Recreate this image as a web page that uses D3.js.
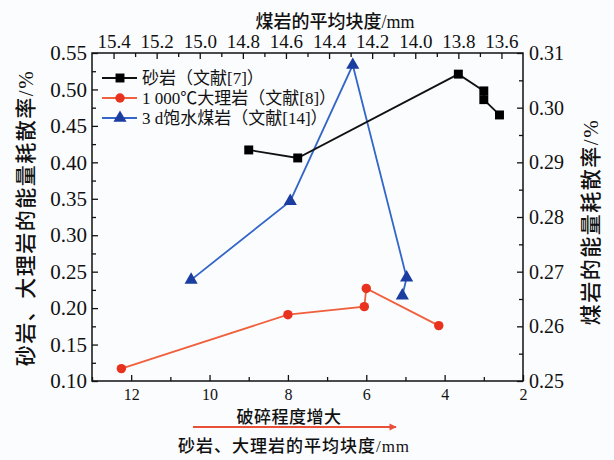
<!DOCTYPE html>
<html><head><meta charset="utf-8">
<script src="https://cdn.jsdelivr.net/npm/d3@7"></script>
<style>
html,body{margin:0;padding:0;background:#fbfcfe;}
svg{display:block;}
text{font-family:"Liberation Serif","Noto Sans CJK SC",serif;fill:#111;}
</style></head>
<body>
<svg id="c" width="614" height="460"></svg>
<script>
// ---- data ----
const sandX = [9.0, 7.75, 3.65, 3.0, 3.0, 2.6];
const sandY = [0.417, 0.406, 0.521, 0.498, 0.486, 0.465];
const marbleX = [12.25, 8.0, 6.05, 6.0, 4.15];
const marbleY = [0.117, 0.191, 0.202, 0.227, 0.176];
const coalX = [15.04, 14.58, 14.29, 14.04, 14.06];
const coalY = [0.2685, 0.2829, 0.3078, 0.2689, 0.2656];
const leftTicks = [0.10,0.15,0.20,0.25,0.30,0.35,0.40,0.45,0.50,0.55];
const rightTicks = [0.25,0.26,0.27,0.28,0.29,0.30,0.31];
const bottomTicks = [12,10,8,6,4,2];
const topTicks = [15.4,15.2,15.0,14.8,14.6,14.4,14.2,14.0,13.8,13.6];
const legendNames = ["砂岩（文献[7]）","1 000℃大理岩（文献[8]）","3 d饱水煤岩（文献[14]）"];

const svg = d3.select("#c");
const L=92,R=523,T=53,B=381;
const xB = d3.scaleLinear().domain([13,2]).range([L,R]);
const xT = d3.scaleLinear().domain([15.5,13.5]).range([L,R]);
const yL = d3.scaleLinear().domain([0.10,0.55]).range([B,T]);
const yR = d3.scaleLinear().domain([0.25,0.31]).range([B,T]);

function styleAxis(g,size){
  g.select(".domain").remove();
  g.selectAll(".tick line").attr("stroke","#111").attr("stroke-width",1.3);
  g.selectAll(".tick text").style("font-size",size+"px").attr("fill","#111");
}
// minor ticks
svg.append("g").attr("transform",`translate(${L},0)`)
  .call(d3.axisLeft(yL).tickValues(d3.range(0.125,0.55,0.05)).tickSize(-4).tickFormat(""))
  .call(g=>styleAxis(g,10));
svg.append("g").attr("transform",`translate(${R},0)`)
  .call(d3.axisRight(yR).tickValues(d3.range(0.255,0.31,0.01)).tickSize(-4).tickFormat(""))
  .call(g=>styleAxis(g,10));
svg.append("g").attr("transform",`translate(0,${B})`)
  .call(d3.axisBottom(xB).tickValues([13,11,9,7,5,3]).tickSize(-4).tickFormat(""))
  .call(g=>styleAxis(g,10));
svg.append("g").attr("transform",`translate(0,${T})`)
  .call(d3.axisTop(xT).tickValues([15.3,15.1,14.9,14.7,14.5,14.3,14.1,13.9,13.7]).tickSize(-4).tickFormat(""))
  .call(g=>styleAxis(g,10));
// major axes
svg.append("g").attr("transform",`translate(${L},0)`)
  .call(d3.axisLeft(yL).tickValues(leftTicks).tickSize(-6).tickPadding(5).tickFormat(d3.format(".2f")))
  .call(g=>styleAxis(g,21));
svg.append("g").attr("transform",`translate(${R},0)`)
  .call(d3.axisRight(yR).tickValues(rightTicks).tickSize(-6).tickPadding(6).tickFormat(d3.format(".2f")))
  .call(g=>styleAxis(g,20));
svg.append("g").attr("transform",`translate(0,${B})`)
  .call(d3.axisBottom(xB).tickValues(bottomTicks).tickSize(-6).tickPadding(8).tickFormat(d3.format("d")))
  .call(g=>styleAxis(g,16));
svg.append("g").attr("transform",`translate(0,${T})`)
  .call(d3.axisTop(xT).tickValues(topTicks).tickSize(-6).tickPadding(5).tickFormat(d3.format(".1f")))
  .call(g=>styleAxis(g,19));

// frame
svg.append("rect").attr("x",L).attr("y",T).attr("width",R-L).attr("height",B-T)
  .attr("fill","none").attr("stroke","#111").attr("stroke-width",1.5);

// series
const series = [
  {xs:sandX, ys:sandY, x:xB, y:yL, line:"#111", fill:"#000", sym:d3.symbolSquare, size:80},
  {xs:marbleX, ys:marbleY, x:xB, y:yL, line:"#f0603c", fill:"#e8321e", sym:d3.symbolCircle, size:70},
  {xs:coalX, ys:coalY, x:xT, y:yR, line:"#3366c8", fill:"#1c3da0", sym:d3.symbolTriangle, size:75}
];
[series[2],series[1],series[0]].forEach(s=>{
  const pts = s.xs.map((v,i)=>[s.x(v), s.y(s.ys[i])]);
  svg.append("path").attr("d",d3.line()(pts)).attr("fill","none")
    .attr("stroke",s.line).attr("stroke-width",1.8);
  svg.selectAll(null).data(pts).enter().append("path")
    .attr("transform",d=>`translate(${d[0]},${d[1]})`)
    .attr("d",d3.symbol().type(s.sym).size(s.size)).attr("fill",s.fill);
});

// legend
legendNames.forEach((name,i)=>{
  const s = series[i], y = 78 + i*20;
  svg.append("line").attr("x1",102).attr("x2",137).attr("y1",y).attr("y2",y)
    .attr("stroke",s.line).attr("stroke-width",1.8);
  svg.append("path").attr("transform",`translate(120,${y})`)
    .attr("d",d3.symbol().type(s.sym).size(s.size)).attr("fill",s.fill);
  svg.append("text").attr("x",142).attr("y",y+6).style("font-size","17px").text(name);
});

// titles
svg.append("text").attr("transform","translate(33,218) rotate(-90)").attr("text-anchor","middle")
  .style("font-size","21px").style("font-weight","500").style("letter-spacing","1.5px").text("砂岩、大理岩的能量耗散率/%");
svg.append("text").attr("transform","translate(598,222) rotate(-90)").attr("text-anchor","middle")
  .style("font-size","21px").style("font-weight","500").style("letter-spacing","1.5px").text("煤岩的能量耗散率/%");
svg.append("text").attr("x",335).attr("y",28).attr("text-anchor","middle")
  .style("font-size","18px").style("font-weight","500").text("煤岩的平均块度/mm");
svg.append("text").attr("x",289).attr("y",423).attr("text-anchor","middle")
  .style("font-size","17px").style("font-weight","500").style("letter-spacing","0.5px").text("破碎程度增大");
svg.append("text").attr("x",294).attr("y",452).attr("text-anchor","middle")
  .style("font-size","17px").style("font-weight","500").style("letter-spacing","1px").text("砂岩、大理岩的平均块度/mm");
// arrow
svg.append("defs").append("marker").attr("id","ah").attr("viewBox","0 0 10 10")
  .attr("refX",9).attr("refY",5).attr("markerWidth",5).attr("markerHeight",4).attr("orient","auto")
  .append("path").attr("d","M0,0L10,5L0,10Z").attr("fill","#e8503a");
svg.append("line").attr("x1",193).attr("x2",396).attr("y1",427).attr("y2",427)
  .attr("stroke","#e8503a").attr("stroke-width",1.8).attr("marker-end","url(#ah)");
</script>
</body></html>
